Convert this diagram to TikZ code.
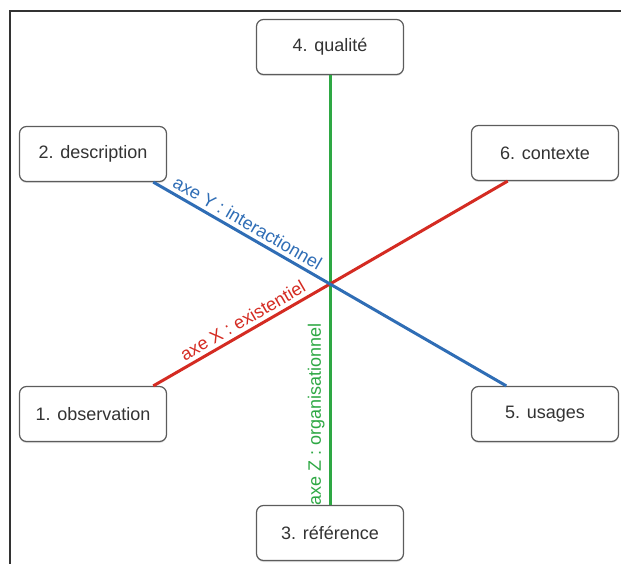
\documentclass[tikz,border=0pt]{standalone}
\usepackage{fontspec}
\setmainfont{Liberation Sans}
\usetikzlibrary{shadows}
\definecolor{boxgray}{HTML}{5C5C5C}
\definecolor{axered}{HTML}{D42B22}
\definecolor{axeblue}{HTML}{2F6DB5}
\definecolor{axegreen}{HTML}{2EA844}

\begin{document}
\begin{tikzpicture}[x=1pt,y=-1pt,
    every node/.style={font=\fontsize{18}{21}\selectfont},
    pole/.style={draw=boxgray,line width=1.2pt,rounded corners=7pt,fill=white,
      minimum width=147pt,minimum height=55pt,text=black!80,
      drop shadow={shadow xshift=0pt,shadow yshift=-1.5pt,opacity=0.25}},
    axis x/.style={axered,line width=3pt},
    axis y/.style={axeblue,line width=3pt},
    axis z/.style={axegreen,line width=3pt},
    axelabel/.style={sloped,above,inner sep=4pt}]
  \useasboundingbox (0,0) rectangle (621,564);
  \draw[line width=1.5pt,black!80] (10,564) -- (10,11) -- (621,11);

  \node[pole] (qual) at (330,47) {4. qualité};
  \node[pole] (desc) at (93,154) {2. description};
  \node[pole] (ctx) at (545,153) {6. contexte};
  \node[pole] (obs) at (93,414) {1. observation};
  \node[pole] (use) at (545,414) {5. usages};
  \node[pole] (ref) at (330,533) {3. référence};
  \coordinate (o) at (330,284);

  \draw[axis z] (ref) -- node[axelabel,pos=0.21,text=axegreen] {axe Z : organisationnel} (qual);
  \draw[axis x] (obs.25) -- node[axelabel,pos=0.54,text=axered] {axe X : existentiel} (o) -- (ctx.217);
  \draw[axis y] (desc.335) -- node[axelabel,pos=0.5,text=axeblue] {axe Y : interactionnel} (o) -- (use.144);
\end{tikzpicture}
\end{document}
